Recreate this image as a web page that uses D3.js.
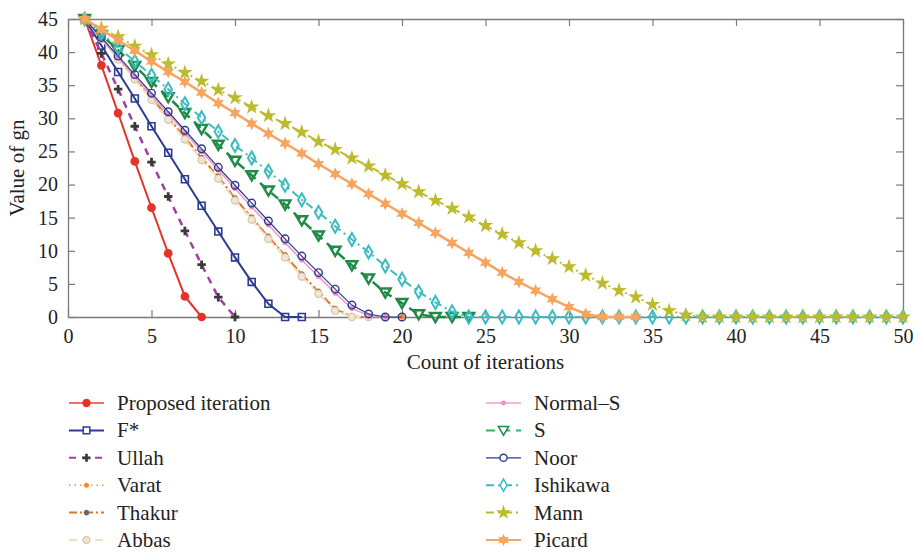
<!DOCTYPE html>
<html>
<head>
<meta charset="utf-8">
<script src="https://cdn.jsdelivr.net/npm/d3@7"></script>
<style>
  body { margin: 0; background: #fff; }
  svg text { font-family: "Liberation Serif", "DejaVu Serif", serif; fill: #222; }
</style>
</head>
<body>
<div id="chart"></div>
<script>
// values of gn per iteration (iteration = index + 1)
const proposed = [45, 38, 30.8, 23.5, 16.5, 9.6, 3.1, 0];
const fStar = [45, 41, 37, 33, 28.8, 24.8, 20.8, 16.8, 12.9, 9.0, 5.3, 2.0, 0, 0];
const ullah = [45, 39.8, 34.4, 28.8, 23.4, 18.2, 13.0, 7.9, 3.0, 0];
const varat = [45, 42.2, 39.2, 36.2, 33.2, 30.2, 27.2, 24.1, 21.3, 18.0, 15.1, 12.2, 9.4, 6.5, 3.9, 1.3, 0.1, 0, 0, 0];
const thakur = [45, 42.1, 39.1, 36.1, 33.1, 30.1, 27.1, 24.0, 21.2, 17.9, 15.0, 12.1, 9.3, 6.4, 3.8, 1.2, 0.05, 0];
const abbas = [45, 42.0, 38.9, 35.9, 32.8, 29.8, 26.8, 23.7, 20.9, 17.6, 14.7, 11.8, 9.0, 6.1, 3.5, 0.95, 0, 0];
const normalS = [45, 42.1, 39.2, 36.3, 33.5, 30.7, 27.9, 25.0, 22.2, 19.4, 16.6, 13.9, 11.2, 8.6, 6.1, 3.6, 1.3, 0.2, 0];
const sIter = [45, 42.6, 40.3, 37.9, 35.5, 33.2, 30.8, 28.4, 26.0, 23.6, 21.4, 19.1, 17.0, 14.6, 12.3, 10.0, 7.8, 5.8, 3.7, 2.1, 0.4, 0, 0, 0];
const noor = [45, 42.2, 39.4, 36.6, 33.8, 31.0, 28.2, 25.4, 22.6, 19.9, 17.2, 14.5, 11.8, 9.2, 6.7, 4.2, 1.8, 0.45, 0, 0];
const ishikawa = [45, 42.9, 40.7, 38.6, 36.5, 34.4, 32.2, 30.1, 28.0, 25.9, 24.0, 22.0, 19.9, 17.7, 15.8, 13.7, 11.7, 9.8, 7.7, 5.7, 3.8, 2.2, 0.8, 0,
  0, 0, 0, 0, 0, 0, 0, 0, 0, 0, 0, 0, 0, 0, 0, 0, 0, 0, 0, 0, 0, 0, 0, 0, 0, 0];
const mann = [45, 43.6, 42.3, 40.9, 39.6, 38.2, 36.9, 35.6, 34.3, 33.1, 31.7, 30.4, 29.2, 27.9, 26.5, 25.3, 24.0, 22.8, 21.4, 20.1,
  18.9, 17.6, 16.4, 15.1, 13.8, 12.5, 11.2, 10.0, 8.8, 7.6, 6.3, 5.1, 4.0, 3.0, 1.9, 0.95, 0.3, 0, 0, 0, 0, 0, 0, 0, 0, 0, 0, 0, 0, 0];
const picard = [45, 43.4, 41.8, 40.2, 38.6, 37.0, 35.5, 33.9, 32.3, 30.8, 29.2, 27.7, 26.2, 24.7, 23.1, 21.6, 20.1, 18.6, 17.1, 15.6,
  14.2, 12.7, 11.2, 9.7, 8.2, 6.7, 5.3, 4.0, 2.7, 1.5, 0.45, 0, 0, 0];

const xTicks = [0, 5, 10, 15, 20, 25, 30, 35, 40, 45, 50];
const yTicks = [0, 5, 10, 15, 20, 25, 30, 35, 40, 45];

// custom six-point star for Picard
const hexStar = {
  draw(ctx, size) {
    const r = Math.sqrt(size) * 0.72, ri = r * 0.5;
    for (let i = 0; i < 12; i++) {
      const a = -Math.PI / 2 + i * Math.PI / 6;
      const rr = i % 2 ? ri : r;
      if (i === 0) ctx.moveTo(rr * Math.cos(a), rr * Math.sin(a));
      else ctx.lineTo(rr * Math.cos(a), rr * Math.sin(a));
    }
    ctx.closePath();
  }
};
const triDown = {
  draw(ctx, size) {
    const r = Math.sqrt(size) * 0.62;
    ctx.moveTo(-r, -r * 0.75);
    ctx.lineTo(r, -r * 0.75);
    ctx.lineTo(0, r * 0.95);
    ctx.closePath();
  }
};
const asterisk = {
  draw(ctx, size) {
    const r = Math.sqrt(size) / 2;
    for (let i = 0; i < 4; i++) {
      const a = i * Math.PI / 4;
      ctx.moveTo(-r * Math.cos(a), -r * Math.sin(a));
      ctx.lineTo(r * Math.cos(a), r * Math.sin(a));
    }
  }
};

const series = [
  { name: "Proposed iteration", values: proposed, color: "#e5332a", width: 2, dash: null,
    sym: d3.symbolCircle, size: 60, fill: "#e5332a", stroke: "none", sw: 0, legendColor: "#f0715f" },
  { name: "F*", values: fStar, color: "#2b3a92", width: 2, dash: null,
    sym: d3.symbolSquare, size: 48, fill: "none", stroke: "#2b3a92", sw: 1.6 },
  { name: "Ullah", values: ullah, color: "#a43ca6", width: 2.5, dash: "7,6",
    sym: d3.symbolCross, size: 40, fill: "#3a3a3a", stroke: "none", sw: 0 },
  { name: "Varat", values: varat, color: "#f5963f", width: 1.5, dash: "1.5,4",
    sym: d3.symbolCircle, size: 22, fill: "#f58a2a", stroke: "none", sw: 0 },
  { name: "Thakur", values: thakur, color: "#d9782a", width: 2, dash: "8,3,2,3",
    sym: asterisk, size: 36, fill: "none", stroke: "#666", sw: 1.5 },
  { name: "Abbas", values: abbas, color: "#f4dcc2", width: 2, dash: "8,5",
    sym: d3.symbolCircle, size: 45, fill: "#f3e4ce", stroke: "#cbbfa8", sw: 1 },
  { name: "Normal\u2013S", values: normalS, color: "#f19cc4", width: 1.6, dash: null,
    sym: d3.symbolCircle, size: 20, fill: "#ef8cbc", stroke: "none", sw: 0 },
  { name: "S", values: sIter, color: "#1e8a45", width: 2.5, dash: "9,6",
    sym: triDown, size: 75, fill: "none", stroke: "#1e8a45", sw: 2.4, legendColor: "#34b060" },
  { name: "Noor", values: noor, color: "#2b3a92", width: 1.2, dash: null,
    sym: d3.symbolCircle, size: 45, fill: "none", stroke: "#2b3a92", sw: 1.4 },
  { name: "Ishikawa", values: ishikawa, color: "#3bbcc0", width: 2, dash: "8,4,2,4",
    sym: d3.symbolDiamond, size: 48, fill: "none", stroke: "#3bbcc0", sw: 2 },
  { name: "Mann", values: mann, color: "#bcbb2e", width: 2, dash: "8,4,2,4",
    sym: d3.symbolStar, size: 75, fill: "#bcbb2e", stroke: "none", sw: 0 },
  { name: "Picard", values: picard, color: "#f7a45e", width: 2.5, dash: null,
    sym: hexStar, size: 85, fill: "#f7a45e", stroke: "none", sw: 0 }
];

const width = 916, height = 554;
const margin = { top: 19, right: 13, bottom: 237, left: 68 };

const svg = d3.select("#chart").append("svg")
  .attr("width", width)
  .attr("height", height)
  .attr("font-family", "'Liberation Serif', serif");

const x = d3.scaleLinear().domain([0, 50]).range([margin.left, width - margin.right]);
const y = d3.scaleLinear().domain([0, 45]).range([height - margin.bottom, margin.top]);

const axisColor = "#7a7a7a";
const tickLen = 7;

// axes with inward ticks, full box
const gx = svg.append("g")
  .attr("transform", `translate(0,${y(0)})`)
  .call(d3.axisBottom(x).tickValues(xTicks).tickSize(-tickLen).tickPadding(12).tickSizeOuter(0));
const gxTop = svg.append("g")
  .attr("transform", `translate(0,${y(45)})`)
  .call(d3.axisTop(x).tickValues(xTicks).tickSize(-tickLen).tickFormat("").tickSizeOuter(0));
const gy = svg.append("g")
  .attr("transform", `translate(${x(0)},0)`)
  .call(d3.axisLeft(y).tickValues(yTicks).tickSize(-tickLen).tickPadding(10).tickSizeOuter(0));
const gyRight = svg.append("g")
  .attr("transform", `translate(${x(50)},0)`)
  .call(d3.axisRight(y).tickValues(yTicks).tickSize(-tickLen).tickFormat("").tickSizeOuter(0));

[gx, gxTop, gy, gyRight].forEach(g => {
  g.attr("font-family", "'Liberation Serif', serif");
  g.select(".domain").attr("stroke", axisColor).attr("stroke-width", 1.3);
  g.selectAll(".tick line").attr("stroke", axisColor).attr("stroke-width", 1.2);
  g.selectAll("text").style("font-size", "20px").attr("fill", "#222");
});

svg.append("text")
  .attr("x", (x(0) + x(50)) / 2)
  .attr("y", 369)
  .attr("text-anchor", "middle")
  .style("font-size", "21px")
  .text("Count of iterations");

svg.append("text")
  .attr("transform", `translate(24,${(y(0) + y(45)) / 2}) rotate(-90)`)
  .attr("text-anchor", "middle")
  .style("font-size", "21px")
  .text("Value of gn");

const line = d3.line()
  .x((d, i) => x(i + 1))
  .y(d => y(d));

const plot = svg.append("g");

series.forEach(s => {
  const g = plot.append("g");
  g.append("path")
    .datum(s.values)
    .attr("fill", "none")
    .attr("stroke", s.color)
    .attr("stroke-width", s.width)
    .attr("stroke-dasharray", s.dash)
    .attr("d", line);
  g.selectAll("path.mark")
    .data(s.values)
    .join("path")
    .attr("class", "mark")
    .attr("transform", (d, i) => `translate(${x(i + 1)},${y(d)})`)
    .attr("d", d3.symbol().type(s.sym).size(s.size))
    .attr("fill", s.fill)
    .attr("stroke", s.stroke)
    .attr("stroke-width", s.sw);
});

// legend, two columns of six
const legend = svg.append("g");
const rowH = 27.4;
series.forEach((s, i) => {
  const col = Math.floor(i / 6);
  const row = i % 6;
  const lx = col === 0 ? 69 : 486;
  const ly = 403 + row * rowH;
  const g = legend.append("g").attr("transform", `translate(${lx},${ly})`);
  g.append("line")
    .attr("x1", 0).attr("x2", 35)
    .attr("stroke", s.legendColor || s.color)
    .attr("stroke-width", Math.min(s.width, 2))
    .attr("stroke-dasharray", s.dash);
  g.append("path")
    .attr("transform", "translate(17.5,0)")
    .attr("d", d3.symbol().type(s.sym).size(s.size * 0.9))
    .attr("fill", s.fill)
    .attr("stroke", s.stroke)
    .attr("stroke-width", s.sw ? Math.min(s.sw, 1.5) : 0)
    .style("fill", s.fill === "none" ? "#fff" : null);
  g.append("text")
    .attr("x", 48)
    .attr("dy", "0.33em")
    .style("font-size", "21px")
    .text(s.name);
});
</script>
</body>
</html>
